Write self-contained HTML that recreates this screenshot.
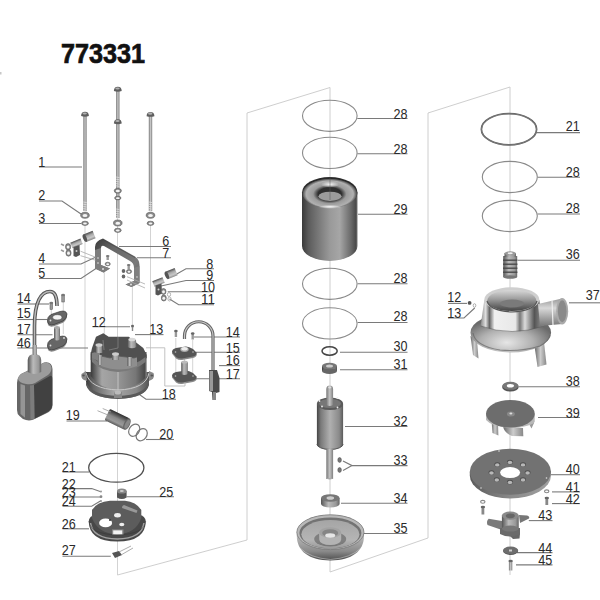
<!DOCTYPE html>
<html><head><meta charset="utf-8"><style>
html,body{margin:0;padding:0;background:#fff;width:600px;height:600px;overflow:hidden}
svg{display:block}
text{font-family:"Liberation Sans",sans-serif;font-size:14.3px;fill:#2a2a2a}
.title{font-family:"Liberation Sans",sans-serif;font-weight:bold;font-size:27px;fill:#111;stroke:#111;stroke-width:0.7px}
</style></head><body>
<svg width="600" height="600" viewBox="0 0 600 600">
<defs>
<linearGradient id="cyl" x1="0" x2="1" y1="0" y2="0">
 <stop offset="0" stop-color="#3a3a3a"/><stop offset="0.12" stop-color="#666"/>
 <stop offset="0.45" stop-color="#a8a8a8"/><stop offset="0.8" stop-color="#888"/><stop offset="1" stop-color="#555"/>
</linearGradient>
<linearGradient id="cylL" x1="0" x2="1" y1="0" y2="0">
 <stop offset="0" stop-color="#555"/><stop offset="0.4" stop-color="#bbb"/><stop offset="0.8" stop-color="#999"/><stop offset="1" stop-color="#666"/>
</linearGradient>
<linearGradient id="cylV" x1="0" x2="0" y1="0" y2="1">
 <stop offset="0" stop-color="#4a4a4a"/><stop offset="0.35" stop-color="#a8a8a8"/><stop offset="0.7" stop-color="#c8c8c8"/><stop offset="1" stop-color="#8a8a8a"/>
</linearGradient>
<linearGradient id="cylH" x1="0" x2="1" y1="0" y2="0">
 <stop offset="0" stop-color="#3a3a3a"/><stop offset="0.2" stop-color="#a5a5a5"/><stop offset="0.45" stop-color="#999"/><stop offset="0.8" stop-color="#777"/><stop offset="0.96" stop-color="#4a4a4a"/><stop offset="1" stop-color="#888"/>
</linearGradient>
<linearGradient id="cylR" x1="0" x2="1" y1="0" y2="0">
 <stop offset="0" stop-color="#444"/><stop offset="0.15" stop-color="#7a7a7a"/><stop offset="0.5" stop-color="#b0b0b0"/><stop offset="0.85" stop-color="#8a8a8a"/><stop offset="1" stop-color="#5a5a5a"/>
</linearGradient>
<linearGradient id="shaft" x1="0" x2="1">
 <stop offset="0" stop-color="#777"/><stop offset="0.5" stop-color="#c4c4c4"/><stop offset="1" stop-color="#808080"/>
</linearGradient>
<radialGradient id="torus" cx="0.5" cy="0.3" r="0.7">
 <stop offset="0" stop-color="#ddd"/><stop offset="0.6" stop-color="#999"/><stop offset="1" stop-color="#555"/>
</radialGradient>
</defs>
<text class="title" x="61" y="62.5" textLength="84" lengthAdjust="spacingAndGlyphs">773331</text>
<polyline points="117.5,575.0 247.0,540.0 247.0,113.0 330.0,87.5 330.0,572.0 428.0,538.0 428.0,113.0 510.0,87.0 510.0,575.0" fill="none" stroke="#c8c8c8" stroke-width="0.9"/>
<line x1="85" y1="225" x2="85" y2="373" stroke="#c8c8c8" stroke-width="0.8"/>
<line x1="117.5" y1="89" x2="117.5" y2="575" stroke="#c8c8c8" stroke-width="0.8"/>
<line x1="150.5" y1="225" x2="150.5" y2="370" stroke="#c8c8c8" stroke-width="0.8"/>
<line x1="132.4" y1="287" x2="132.4" y2="324" stroke="#c8c8c8" stroke-width="0.8"/>
<line x1="104.3" y1="270" x2="104.3" y2="336" stroke="#c8c8c8" stroke-width="0.8"/>
<line x1="175.8" y1="338" x2="175.8" y2="378" stroke="#c8c8c8" stroke-width="0.8"/>
<line x1="192.7" y1="340" x2="192.7" y2="378" stroke="#c8c8c8" stroke-width="0.8"/>
<line x1="51.3" y1="304" x2="51.3" y2="318" stroke="#c8c8c8" stroke-width="0.8"/>
<line x1="63.3" y1="300" x2="63.3" y2="334" stroke="#c8c8c8" stroke-width="0.8"/>
<line x1="57" y1="325" x2="57" y2="335" stroke="#c8c8c8" stroke-width="0.8"/>
<line x1="184.5" y1="358" x2="184.5" y2="362" stroke="#c8c8c8" stroke-width="0.8"/>
<polyline points="39.0,167.0 82.0,167.0" fill="none" stroke="#7a7a7a" stroke-width="1.1"/>
<polyline points="39.0,201.0 62.0,201.0 81.0,214.0" fill="none" stroke="#7a7a7a" stroke-width="1.1"/>
<polyline points="39.0,223.5 81.0,223.5" fill="none" stroke="#7a7a7a" stroke-width="1.1"/>
<polyline points="39.0,264.0 81.0,264.0 96.0,257.0" fill="none" stroke="#7a7a7a" stroke-width="1.1"/>
<polyline points="39.0,278.5 81.0,278.5 97.5,267.5" fill="none" stroke="#7a7a7a" stroke-width="1.1"/>
<polyline points="119.0,246.5 171.0,246.5" fill="none" stroke="#7a7a7a" stroke-width="1.1"/>
<polyline points="137.0,257.8 171.0,257.8" fill="none" stroke="#7a7a7a" stroke-width="1.1"/>
<polyline points="175.0,275.0 186.0,268.8 214.0,268.8" fill="none" stroke="#7a7a7a" stroke-width="1.1"/>
<polyline points="161.0,286.0 186.0,280.5 214.0,280.5" fill="none" stroke="#7a7a7a" stroke-width="1.1"/>
<polyline points="167.7,291.8 214.0,291.8" fill="none" stroke="#7a7a7a" stroke-width="1.1"/>
<polyline points="169.5,299.0 178.7,304.8 214.0,304.8" fill="none" stroke="#7a7a7a" stroke-width="1.1"/>
<polyline points="17.5,304.0 49.0,304.0" fill="none" stroke="#7a7a7a" stroke-width="1.1"/>
<polyline points="17.5,319.5 47.5,319.5" fill="none" stroke="#7a7a7a" stroke-width="1.1"/>
<polyline points="17.5,334.8 52.5,334.8" fill="none" stroke="#7a7a7a" stroke-width="1.1"/>
<polyline points="17.5,348.0 88.0,348.0" fill="none" stroke="#7a7a7a" stroke-width="1.1"/>
<polyline points="92.5,326.8 130.0,326.8" fill="none" stroke="#7a7a7a" stroke-width="1.1"/>
<polyline points="135.0,334.6 163.5,334.6" fill="none" stroke="#7a7a7a" stroke-width="1.1"/>
<polyline points="194.0,337.0 240.0,337.0" fill="none" stroke="#7a7a7a" stroke-width="1.1"/>
<polyline points="196.0,352.3 240.0,352.3" fill="none" stroke="#7a7a7a" stroke-width="1.1"/>
<polyline points="219.0,365.6 240.0,365.6" fill="none" stroke="#7a7a7a" stroke-width="1.1"/>
<polyline points="196.0,378.8 240.0,378.8" fill="none" stroke="#7a7a7a" stroke-width="1.1"/>
<polyline points="138.0,393.5 146.0,399.2 176.0,399.2" fill="none" stroke="#7a7a7a" stroke-width="1.1"/>
<polyline points="66.5,421.0 107.0,421.0" fill="none" stroke="#7a7a7a" stroke-width="1.1"/>
<polyline points="146.0,439.5 174.0,439.5" fill="none" stroke="#7a7a7a" stroke-width="1.1"/>
<polyline points="62.5,472.0 89.0,472.0" fill="none" stroke="#7a7a7a" stroke-width="1.1"/>
<polyline points="62.5,488.6 91.7,488.6 100.8,491.7" fill="none" stroke="#7a7a7a" stroke-width="1.1"/>
<polyline points="62.5,497.0 101.0,497.0" fill="none" stroke="#7a7a7a" stroke-width="1.1"/>
<polyline points="62.5,506.2 91.7,506.2 100.8,500.8" fill="none" stroke="#7a7a7a" stroke-width="1.1"/>
<polyline points="126.7,496.8 174.0,496.8" fill="none" stroke="#7a7a7a" stroke-width="1.1"/>
<polyline points="62.5,528.8 89.0,528.8" fill="none" stroke="#7a7a7a" stroke-width="1.1"/>
<polyline points="62.5,556.2 110.8,556.2" fill="none" stroke="#7a7a7a" stroke-width="1.1"/>
<polyline points="357.3,118.5 407.5,118.5" fill="none" stroke="#7a7a7a" stroke-width="1.1"/>
<polyline points="357.3,153.7 407.5,153.7" fill="none" stroke="#7a7a7a" stroke-width="1.1"/>
<polyline points="358.0,214.2 407.5,214.2" fill="none" stroke="#7a7a7a" stroke-width="1.1"/>
<polyline points="357.6,283.8 407.5,283.8" fill="none" stroke="#7a7a7a" stroke-width="1.1"/>
<polyline points="357.6,322.5 407.5,322.5" fill="none" stroke="#7a7a7a" stroke-width="1.1"/>
<polyline points="340.0,352.2 407.5,352.2" fill="none" stroke="#7a7a7a" stroke-width="1.1"/>
<polyline points="340.0,369.8 407.5,369.8" fill="none" stroke="#7a7a7a" stroke-width="1.1"/>
<polyline points="345.0,426.5 407.5,426.5" fill="none" stroke="#7a7a7a" stroke-width="1.1"/>
<polyline points="343.0,461.0 352.0,465.6 407.5,465.6" fill="none" stroke="#7a7a7a" stroke-width="1.1"/>
<polyline points="343.0,470.5 352.0,465.6" fill="none" stroke="#7a7a7a" stroke-width="1.1"/>
<polyline points="341.0,503.2 407.5,503.2" fill="none" stroke="#7a7a7a" stroke-width="1.1"/>
<polyline points="364.0,533.5 407.5,533.5" fill="none" stroke="#7a7a7a" stroke-width="1.1"/>
<polyline points="537.0,132.6 580.0,132.6" fill="none" stroke="#7a7a7a" stroke-width="1.1"/>
<polyline points="537.6,177.2 580.0,177.2" fill="none" stroke="#7a7a7a" stroke-width="1.1"/>
<polyline points="537.6,214.0 580.0,214.0" fill="none" stroke="#7a7a7a" stroke-width="1.1"/>
<polyline points="518.0,260.2 580.0,260.2" fill="none" stroke="#7a7a7a" stroke-width="1.1"/>
<polyline points="569.0,302.8 600.0,302.8" fill="none" stroke="#7a7a7a" stroke-width="1.1"/>
<polyline points="448.0,303.4 467.0,303.4" fill="none" stroke="#7a7a7a" stroke-width="1.1"/>
<polyline points="448.0,318.0 464.0,318.0 474.7,308.0" fill="none" stroke="#7a7a7a" stroke-width="1.1"/>
<polyline points="518.7,386.7 580.0,386.7" fill="none" stroke="#7a7a7a" stroke-width="1.1"/>
<polyline points="538.0,417.5 580.0,417.5" fill="none" stroke="#7a7a7a" stroke-width="1.1"/>
<polyline points="551.0,474.7 580.0,474.7" fill="none" stroke="#7a7a7a" stroke-width="1.1"/>
<polyline points="552.0,491.9 580.0,491.9" fill="none" stroke="#7a7a7a" stroke-width="1.1"/>
<polyline points="552.0,503.6 580.0,503.6" fill="none" stroke="#7a7a7a" stroke-width="1.1"/>
<polyline points="528.8,520.6 552.5,520.6" fill="none" stroke="#7a7a7a" stroke-width="1.1"/>
<polyline points="517.0,552.6 552.5,552.6" fill="none" stroke="#7a7a7a" stroke-width="1.1"/>
<polyline points="516.0,564.9 552.5,564.9" fill="none" stroke="#7a7a7a" stroke-width="1.1"/>
<rect x="83.3" y="114.5" width="3.4" height="96.5" fill="url(#shaft)"/><path d="M81.1,116.0 Q81.1,111.7 85.0,111.7 Q88.9,111.7 88.9,116.0 Q85.0,117.3 81.1,116.0 Z" fill="#5e5e5e"/><ellipse cx="84.7" cy="113.5" rx="2.2" ry="1.1" fill="#b0b0b0"/>
<rect x="148.8" y="114.7" width="3.4" height="96.3" fill="url(#shaft)"/><path d="M146.6,116.2 Q146.6,111.9 150.5,111.9 Q154.4,111.9 154.4,116.2 Q150.5,117.5 146.6,116.2 Z" fill="#5e5e5e"/><ellipse cx="150.2" cy="113.7" rx="2.2" ry="1.1" fill="#b0b0b0"/>
<rect x="116.1" y="89.5" width="3.4" height="32.5" fill="url(#shaft)"/><path d="M113.9,91.0 Q113.9,86.7 117.8,86.7 Q121.7,86.7 121.7,91.0 Q117.8,92.3 113.9,91.0 Z" fill="#5e5e5e"/><ellipse cx="117.5" cy="88.5" rx="2.2" ry="1.1" fill="#b0b0b0"/>
<rect x="116.1" y="122.0" width="3.4" height="96.0" fill="url(#shaft)"/><path d="M113.9,123.5 Q113.9,119.2 117.8,119.2 Q121.7,119.2 121.7,123.5 Q117.8,124.8 113.9,123.5 Z" fill="#5e5e5e"/><ellipse cx="117.5" cy="121.0" rx="2.2" ry="1.1" fill="#b0b0b0"/>
<line x1="83.3" y1="202.0" x2="86.7" y2="202.6" stroke="#e6e6e6" stroke-width="0.7"/><line x1="83.3" y1="204.2" x2="86.7" y2="204.8" stroke="#e6e6e6" stroke-width="0.7"/><line x1="83.3" y1="206.4" x2="86.7" y2="207.0" stroke="#e6e6e6" stroke-width="0.7"/><line x1="83.3" y1="208.6" x2="86.7" y2="209.2" stroke="#e6e6e6" stroke-width="0.7"/><line x1="83.3" y1="210.8" x2="86.7" y2="211.4" stroke="#e6e6e6" stroke-width="0.7"/>
<line x1="148.8" y1="202.0" x2="152.2" y2="202.6" stroke="#e6e6e6" stroke-width="0.7"/><line x1="148.8" y1="204.2" x2="152.2" y2="204.8" stroke="#e6e6e6" stroke-width="0.7"/><line x1="148.8" y1="206.4" x2="152.2" y2="207.0" stroke="#e6e6e6" stroke-width="0.7"/><line x1="148.8" y1="208.6" x2="152.2" y2="209.2" stroke="#e6e6e6" stroke-width="0.7"/><line x1="148.8" y1="210.8" x2="152.2" y2="211.4" stroke="#e6e6e6" stroke-width="0.7"/>
<line x1="116.1" y1="177.0" x2="119.5" y2="177.6" stroke="#e6e6e6" stroke-width="0.7"/><line x1="116.1" y1="179.2" x2="119.5" y2="179.8" stroke="#e6e6e6" stroke-width="0.7"/><line x1="116.1" y1="181.4" x2="119.5" y2="182.0" stroke="#e6e6e6" stroke-width="0.7"/><line x1="116.1" y1="183.6" x2="119.5" y2="184.2" stroke="#e6e6e6" stroke-width="0.7"/><line x1="116.1" y1="185.8" x2="119.5" y2="186.4" stroke="#e6e6e6" stroke-width="0.7"/>
<line x1="116.1" y1="209.0" x2="119.5" y2="209.6" stroke="#e6e6e6" stroke-width="0.7"/><line x1="116.1" y1="211.2" x2="119.5" y2="211.8" stroke="#e6e6e6" stroke-width="0.7"/><line x1="116.1" y1="213.4" x2="119.5" y2="214.0" stroke="#e6e6e6" stroke-width="0.7"/><line x1="116.1" y1="215.6" x2="119.5" y2="216.2" stroke="#e6e6e6" stroke-width="0.7"/><line x1="116.1" y1="217.8" x2="119.5" y2="218.4" stroke="#e6e6e6" stroke-width="0.7"/>
<ellipse cx="85.0" cy="215.3" rx="4.3" ry="3.0" fill="#8a8a8a" stroke="#555" stroke-width="0.6"/><ellipse cx="85.0" cy="215.5" rx="2.4" ry="1.5" fill="#f4f4f4"/>
<ellipse cx="85.0" cy="223.3" rx="3.4" ry="2.1" fill="#8a8a8a" stroke="#555" stroke-width="0.6"/><ellipse cx="85.0" cy="223.5" rx="1.9" ry="1.1" fill="#f4f4f4"/>
<ellipse cx="150.5" cy="215.3" rx="4.3" ry="3.0" fill="#8a8a8a" stroke="#555" stroke-width="0.6"/><ellipse cx="150.5" cy="215.5" rx="2.4" ry="1.5" fill="#f4f4f4"/>
<ellipse cx="150.5" cy="223.3" rx="3.4" ry="2.1" fill="#8a8a8a" stroke="#555" stroke-width="0.6"/><ellipse cx="150.5" cy="223.5" rx="1.9" ry="1.1" fill="#f4f4f4"/>
<ellipse cx="117.8" cy="190.8" rx="3.6" ry="2.4" fill="#8a8a8a" stroke="#555" stroke-width="0.6"/><ellipse cx="117.8" cy="191.0" rx="2.0" ry="1.2" fill="#f4f4f4"/>
<ellipse cx="117.8" cy="198.0" rx="3.2" ry="1.8" fill="#8a8a8a" stroke="#555" stroke-width="0.6"/><ellipse cx="117.8" cy="198.2" rx="1.8" ry="0.9" fill="#f4f4f4"/>
<ellipse cx="117.8" cy="223.0" rx="4.3" ry="3.0" fill="#8a8a8a" stroke="#555" stroke-width="0.6"/><ellipse cx="117.8" cy="223.2" rx="2.4" ry="1.5" fill="#f4f4f4"/>
<ellipse cx="117.8" cy="230.3" rx="3.4" ry="2.1" fill="#8a8a8a" stroke="#555" stroke-width="0.6"/><ellipse cx="117.8" cy="230.5" rx="1.9" ry="1.1" fill="#f4f4f4"/>
<linearGradient id="brk" x1="0" y1="0" x2="1" y2="1"><stop offset="0" stop-color="#3a3a3a"/><stop offset="0.3" stop-color="#666"/><stop offset="0.7" stop-color="#7a7a7a"/><stop offset="1" stop-color="#5a5a5a"/></linearGradient>
<path d="M95,268.5 L95,247 Q95,241 103,238.5 L135,256.5 Q139.5,259.5 139.5,265 L139.5,283 L131.5,287 L125.5,284.5 L134,281 L134,268 Q134,263 130,261 L104,246 Q101,245 101,248 L101,265 L110,268.5 L103.5,272.5 Z" fill="url(#brk)"/>
<path d="M101,248 L101,265 L110,268.5 L103.5,272.5 L95,268.5 L95,250Z" fill="#7d7d7d"/>
<path d="M134,268 L134,281 L125.5,284.5 L131.5,287 L139.5,283 L139.5,266Z" fill="#808080"/>
<path d="M96,244 Q98,240.5 103,239.8 L135,257.5" stroke="#444" stroke-width="0.6" fill="none"/>
<circle cx="98" cy="258" r="1" fill="#bbb"/><circle cx="98" cy="263" r="1" fill="#bbb"/><circle cx="103" cy="269" r="1" fill="#ddd"/><circle cx="137" cy="277" r="0.9" fill="#bbb"/><circle cx="131" cy="284.5" r="1" fill="#ddd"/>
<g transform="rotate(-22 89.5 236.3)"><rect x="84.5" y="232.3" width="10" height="8" fill="url(#cylV)"/><ellipse cx="84.5" cy="236.3" rx="1.8" ry="4" fill="#555"/></g>
<g transform="rotate(-22 76.4 243.4)"><rect x="71" y="240.4" width="11" height="6" fill="url(#cylV)"/></g>
<path d="M73.5,247 L79.5,245 L80,255 L76,257 L73.5,256Z" fill="#555"/><circle cx="76.5" cy="251" r="1" fill="#ccc"/>
<ellipse cx="68.1" cy="246.8" rx="2.6" ry="3.2" fill="#8a8a8a" stroke="#555" stroke-width="0.6"/><ellipse cx="68.1" cy="247.0" rx="1.4" ry="1.6" fill="#f4f4f4"/>
<ellipse cx="68.5" cy="253.0" rx="2.6" ry="3.2" fill="#8a8a8a" stroke="#555" stroke-width="0.6"/><ellipse cx="68.5" cy="253.2" rx="1.4" ry="1.6" fill="#f4f4f4"/>
<path d="M61,244 L64,245.5 M61,250 L64,251.5" stroke="#999" stroke-width="1.6"/>
<polyline points="80.5,251.2 95.5,257.2" fill="none" stroke="#aaa" stroke-width="0.8"/>
<polyline points="80.5,255.7 95.5,260.2" fill="none" stroke="#aaa" stroke-width="0.8"/>
<g transform="rotate(-22 171.5 273.5)"><rect x="166.5" y="269.5" width="10" height="8" fill="url(#cylV)"/><ellipse cx="166.5" cy="273.5" rx="1.8" ry="4" fill="#555"/></g>
<g transform="rotate(-22 158.5 282)"><rect x="153" y="279" width="11" height="6" fill="url(#cylV)"/></g>
<path d="M155.5,285.5 L161.5,283.5 L162,293.5 L158,295.5 L155.5,294.5Z" fill="#555"/><circle cx="158.5" cy="289.5" r="1" fill="#ccc"/>
<ellipse cx="163.5" cy="291.5" rx="2.5" ry="3.0" fill="#8a8a8a" stroke="#555" stroke-width="0.6"/><ellipse cx="163.5" cy="291.7" rx="1.4" ry="1.5" fill="#f4f4f4"/>
<ellipse cx="163.8" cy="298.0" rx="2.5" ry="3.0" fill="#8a8a8a" stroke="#555" stroke-width="0.6"/><ellipse cx="163.8" cy="298.2" rx="1.4" ry="1.5" fill="#f4f4f4"/>
<ellipse cx="169" cy="294.5" rx="1.6" ry="2" fill="none" stroke="#aaa" stroke-width="0.9"/><ellipse cx="169.5" cy="299" rx="1.6" ry="2" fill="none" stroke="#aaa" stroke-width="0.9"/>
<polyline points="127.0,276.7 145.0,284.0" fill="none" stroke="#aaa" stroke-width="0.8"/>
<polyline points="127.0,280.0 145.0,288.0" fill="none" stroke="#aaa" stroke-width="0.8"/>
<rect x="106.5" y="256" width="2.4" height="4" fill="#999"/><ellipse cx="107.7" cy="256" rx="1.8" ry="1.1" fill="#777"/><ellipse cx="107.7" cy="264.0" rx="2.6" ry="1.8" fill="#8a8a8a" stroke="#555" stroke-width="0.6"/><ellipse cx="107.7" cy="264.2" rx="1.4" ry="0.9" fill="#f4f4f4"/>
<rect x="127.5" y="265" width="2.4" height="4" fill="#999"/><ellipse cx="128.7" cy="265" rx="1.8" ry="1.1" fill="#777"/><ellipse cx="129.0" cy="271.5" rx="2.6" ry="2.0" fill="#8a8a8a" stroke="#555" stroke-width="0.6"/><ellipse cx="129.0" cy="271.7" rx="1.4" ry="1.0" fill="#f4f4f4"/><ellipse cx="123.5" cy="271" rx="1.8" ry="2" fill="#666"/><ellipse cx="123.5" cy="276.5" rx="1.8" ry="2" fill="#666"/>
<path d="M34.5,356 L34.5,326 C34.5,302 41,291.5 50,291.5 C55,291.5 57,296 57,306" fill="none" stroke="#555" stroke-width="3.6"/>
<path d="M34.5,356 L34.5,326 C34.5,302 41,291.5 50,291.5 C55,291.5 57,296 57,306" fill="none" stroke="#b8b8b8" stroke-width="1.5"/>
<path d="M17,383 Q17,375 24,372.5 L44,362.5 Q52,361 52.5,369 L52.5,405 Q52.5,411 46,413.5 L33,419.8 Q28,421.5 23,419 L19.5,416 Q17,414 17,410 Z" fill="#666"/>
<path d="M18,379 Q19,374 24.5,372.5 L44,362.8 Q51,362 51.5,368 Q51.5,372 48,375 L35,383 Q31,385 26,384 Q19,383 18,379 Z" fill="#9c9c9c"/>
<path d="M34,385 L50,376 Q52.3,375 52.3,379 L52.3,405 Q52,410 46.5,412.5 L34.5,418.7 Z" fill="#414141"/>
<path d="M20.5,384 L20.5,414 L25,417.8 L25,385.5 Z" fill="#959595"/><path d="M30,385.5 L34,385 L34.5,418.7 L30.5,419.5 Z" fill="#7c7c7c"/>
<path d="M27.7,372 L27.7,360 Q28,354 34.5,354 Q41,354 41.2,360 L41.2,372 Q34.5,376 27.7,372 Z" fill="url(#cylL)"/>
<rect x="32.8" y="345" width="4.2" height="10" fill="url(#shaft)"/>
<rect x="50" y="303" width="2.6" height="6.5" fill="#999" stroke="#555" stroke-width="0.5"/><ellipse cx="51.3" cy="303" rx="1.9" ry="1.3" fill="#777"/><rect x="61.8" y="295" width="2.6" height="7" fill="#999" stroke="#555" stroke-width="0.5"/><ellipse cx="63.1" cy="295" rx="1.9" ry="1.3" fill="#777"/>
<path d="M47.5,322.8 Q47,318.8 51,316.3 L60,313.3 Q66,311.8 67,315.8 Q67,319.8 63,322.8 L54,326.3 Q48,327.8 47.5,322.8 Z" fill="#888"/><path d="M47.5,321.0 Q47,317.0 51,314.5 L60,311.5 Q66,310.0 67,314.0 Q67,318.0 63,321.0 L54,324.5 Q48,326.0 47.5,321.0 Z" fill="#666" stroke="#3a3a3a" stroke-width="0.7"/>
<ellipse cx="57.3" cy="317.3" rx="4.6" ry="2.6" fill="#f2f2f2" stroke="#444" stroke-width="0.5"/><circle cx="50.5" cy="320.5" r="0.9" fill="#ddd"/>
<path d="M47.5,347.8 Q47,343.8 51,341.3 L60,338.3 Q66,336.8 67,340.8 Q67,344.8 63,347.8 L54,351.3 Q48,352.8 47.5,347.8 Z" fill="#888"/><path d="M47.5,346.0 Q47,342.0 51,339.5 L60,336.5 Q66,335.0 67,339.0 Q67,343.0 63,346.0 L54,349.5 Q48,351.0 47.5,346.0 Z" fill="#666" stroke="#3a3a3a" stroke-width="0.7"/>
<path d="M54,328 L54,339.5 Q57,341.5 60,339.5 L60,328 Z" fill="url(#cylL)"/><ellipse cx="57" cy="327.5" rx="3" ry="1.5" fill="#aaa"/><circle cx="50.5" cy="345.5" r="0.9" fill="#ddd"/><circle cx="64" cy="338" r="0.9" fill="#ddd"/>
<path d="M86,372 L86,382 Q88,398 118,399 Q148,398 149,382 L149,372 Z" fill="url(#cyl)"/>
<path d="M86,381 Q90,395 118,396 Q146,395 149,381 L149,385 Q146,398 118,399 Q90,398 86,385Z" fill="#5a5a5a"/>
<path d="M90.7,352 L90.7,376 Q100,389 118,389.5 Q137,389 146.7,376 L146.7,352 Z" fill="url(#cylH)"/>
<path d="M86,373 Q90,389 118,390 Q146,389 149,373" stroke="#c8c8c8" stroke-width="1" fill="none"/>
<line x1="118" y1="365" x2="118" y2="390" stroke="#cfcfcf" stroke-width="0.8"/>
<path d="M86,371 L81.5,374 Q80.5,378 84,380 L87,381Z" fill="#8a8a8a"/><ellipse cx="83.5" cy="375.5" rx="1.3" ry="1" fill="#555"/><path d="M149,371 L153.5,373 Q155,377 152,379.5 L149,381Z" fill="#8a8a8a"/><ellipse cx="151.8" cy="375.5" rx="1.3" ry="1" fill="#555"/>
<path d="M114,392 L114,398 L122,398 L122,392Z" fill="#888"/><ellipse cx="117.8" cy="392.5" rx="3.2" ry="2" fill="#bbb"/>
<path d="M90.7,354 L92,348 L96,336.7 L103.3,333.3 L108.7,336.7 L128.7,336.7 L143.3,348 L146.7,355 L146.7,358 Q135,369 118,368.5 Q101,368 90.7,360 Z" fill="#505050"/>
<path d="M92,357 Q101,366 118,367 Q135,366 145.5,357 L145.5,362 Q135,371 118,372 Q101,371 92,362Z" fill="#7a7a7a"/>
<path d="M101,356 L110,358 L118,356 L134,358 L137,357 L137,366 Q120,373 101,366 Z" fill="#8e8e8e"/><path d="M101,356 L110,358 L118,356 L134,358 L137,357" stroke="#5a5a5a" stroke-width="0.8" fill="none"/>
<path d="M92,353 L100,351 L100,362 L92,358Z" fill="#808080"/>
<path d="M128,340 Q132,336.5 136,340 L136.5,347 Q132,349.5 127.5,347Z" fill="url(#cylL)"/><ellipse cx="132" cy="339.5" rx="3.6" ry="1.8" fill="#d8d8d8"/>
<rect x="95.5" y="345" width="7" height="8" fill="url(#cylL)"/><ellipse cx="99" cy="345" rx="3.5" ry="1.8" fill="#ccc"/>
<rect x="112" y="354" width="7" height="6" fill="url(#cylL)"/><ellipse cx="115.5" cy="354" rx="3.5" ry="1.8" fill="#ccc"/>
<rect x="127.5" y="357" width="4.5" height="9" fill="url(#cylL)"/><rect x="98" y="355" width="4" height="10" fill="url(#cylL)"/>
<path d="M103,340 L104,350 M109,350 L118,348 L118,337" stroke="#888" stroke-width="0.7" fill="none"/>
<circle cx="132.5" cy="326" r="1.5" fill="#666"/><rect x="131.8" y="327" width="1.4" height="4" fill="#888"/>
<path d="M184.5,339 L184.5,336 A14.25,14.25 0 0 1 213,336 L213,372" fill="none" stroke="#666" stroke-width="3.2"/><path d="M184.5,339 L184.5,336 A14.25,14.25 0 0 1 213,336 L213,372" fill="none" stroke="#c8c8c8" stroke-width="1.1"/>
<path d="M209,370 L217,370 L219.5,378 L219.5,392 L216,393 L216,400 L212.5,400 L212,392 L209,391 Z" fill="#4a4a4a"/><rect x="209.5" y="371" width="3.5" height="20" fill="#999"/><rect x="213" y="392" width="3" height="8" fill="#888"/>
<rect x="174.7" y="331" width="2.4" height="6" fill="#999"/><ellipse cx="175.9" cy="331" rx="1.8" ry="1.2" fill="#666"/><rect x="191.5" y="333.5" width="2.4" height="6" fill="#999"/><ellipse cx="192.7" cy="333.5" rx="1.8" ry="1.2" fill="#666"/>
<path d="M172,353.5 Q172,350.5 176,349.5 L186,348.0 Q189,348.0 193,350.5 L196.5,354.0 Q197.5,356.5 193,358.0 L182,360.0 Q179,360.5 176,358.5 Z" fill="#8a8a8a"/>
<path d="M172,352 Q172,349 176,348 L186,346.5 Q189,346.5 193,349 L196.5,352.5 Q197.5,355 193,356.5 L182,358.5 Q179,359 176,357 Z" fill="#555"/>
<ellipse cx="184.5" cy="349.5" rx="4.2" ry="2.4" fill="#aaa"/><ellipse cx="184.5" cy="348.8" rx="3.2" ry="1.8" fill="#eee"/>
<path d="M172,377.5 Q172,374.5 176,373.5 L186,372.0 Q189,372.0 193,374.5 L196.5,378.0 Q197.5,380.5 193,382.0 L182,384.0 Q179,384.5 176,382.5 Z" fill="#8a8a8a"/>
<path d="M172,376 Q172,373 176,372 L186,370.5 Q189,370.5 193,373 L196.5,376.5 Q197.5,379 193,380.5 L182,382.5 Q179,383 176,381 Z" fill="#555"/>
<path d="M181.2,362 L181.2,374 Q184.5,376 187.8,374 L187.8,362 Z" fill="url(#cylL)"/><ellipse cx="184.5" cy="362" rx="3.3" ry="1.6" fill="#bbb"/>
<circle cx="175.5" cy="352" r="0.8" fill="#bbb"/><circle cx="193" cy="352" r="0.8" fill="#bbb"/><circle cx="175.5" cy="376" r="0.8" fill="#bbb"/><circle cx="193" cy="376" r="0.8" fill="#bbb"/>
<polyline points="146.0,347.8 164.8,347.8 164.8,386.0 185.0,386.0 185.0,382.5" fill="none" stroke="#bbb" stroke-width="0.9"/>
<linearGradient id="capg" x1="0" x2="0" y1="0" y2="1"><stop offset="0" stop-color="#2e2e2e"/><stop offset="0.45" stop-color="#8a8a8a"/><stop offset="0.75" stop-color="#9a9a9a"/><stop offset="1" stop-color="#5a5a5a"/></linearGradient>
<g transform="rotate(26 117.5 419.5)"><rect x="106" y="413.3" width="22" height="12.4" rx="1.5" fill="url(#capg)"/><ellipse cx="128" cy="419.5" rx="3" ry="6.2" fill="#666"/><ellipse cx="128.3" cy="419.5" rx="2" ry="4.8" fill="#888"/></g>
<path d="M97.5,410.7 L108,415 M102.7,408.5 L111,412" stroke="#999" stroke-width="0.8"/>
<ellipse cx="134.2" cy="430.2" rx="5" ry="6.6" fill="none" stroke="#777" stroke-width="1.2" transform="rotate(35 134.2 430.2)"/><ellipse cx="141.7" cy="434.7" rx="5" ry="6.6" fill="none" stroke="#777" stroke-width="1.2" transform="rotate(35 141.7 434.7)"/>
<ellipse cx="116.3" cy="467.8" rx="27.6" ry="14.4" fill="none" stroke="#505050" stroke-width="1.3"/>
<circle cx="101" cy="491.5" r="1" fill="#999"/><circle cx="101" cy="496.7" r="1.4" fill="#888"/><circle cx="101" cy="501" r="1" fill="#999"/>
<path d="M88.8,521 Q88.8,541.5 117.3,541.5 Q145.7,541.5 145.7,521 Q145.7,512 117.3,512 Q88.8,512 88.8,521Z" fill="#484848"/>
<path d="M90.5,523 Q92.5,538.5 117.3,539 Q142,538.5 144,523" stroke="#a0a0a0" stroke-width="1.6" fill="none"/>
<path d="M92,518 L92,510 Q97,501.5 110,500.7 L125,500.7 Q136,501.5 141.3,510 L141.3,518 Q136,533.5 117,534.5 Q98,533.5 92,518Z" fill="#5c5c5c"/>
<ellipse cx="105.6" cy="522.9" rx="6.5" ry="4.3" fill="#fff"/><ellipse cx="117.5" cy="515.3" rx="3.4" ry="2.2" fill="#eee"/><ellipse cx="121.8" cy="524.5" rx="2.6" ry="1.8" fill="#eee"/>
<rect x="112" y="529.4" width="11.5" height="5.6" fill="#888"/><rect x="113.2" y="530.4" width="9" height="4" fill="#f2f2f2"/>
<path d="M122.4,506 L124,505 L137.5,510.5 L136.5,513 L122,508Z" fill="#999"/><circle cx="110" cy="520" r="1" fill="#333"/>
<path d="M88.8,521 Q90,534 117,535 Q145,534 145.7,521" stroke="#333" stroke-width="0.8" fill="none" opacity="0.6"/>
<path d="M117,491 L117,497.5 Q121.8,500.5 126.6,497.5 L126.6,491 Z" fill="#555"/><ellipse cx="121.8" cy="491" rx="4.8" ry="2.6" fill="#888"/><ellipse cx="121.8" cy="491" rx="2" ry="1.1" fill="#ccc"/>
<path d="M112,553 L119,551 L122,555 L115,558 Z" fill="#555"/><path d="M119,552 L131,546 M121,555 L133,548" stroke="#999" stroke-width="0.8"/>
<ellipse cx="329.8" cy="115.8" rx="27.3" ry="15.6" fill="none" stroke="#8a8a8a" stroke-width="1.1"/>
<ellipse cx="329.8" cy="152.9" rx="27.3" ry="15.6" fill="none" stroke="#8a8a8a" stroke-width="1.1"/>
<ellipse cx="329.8" cy="283.8" rx="27.3" ry="15.6" fill="none" stroke="#8a8a8a" stroke-width="1.1"/>
<ellipse cx="329.8" cy="323.4" rx="27.3" ry="15.6" fill="none" stroke="#8a8a8a" stroke-width="1.1"/>
<linearGradient id="c29" x1="0" x2="1"><stop offset="0" stop-color="#3a3a3a"/><stop offset="0.12" stop-color="#5c5c5c"/><stop offset="0.5" stop-color="#999"/><stop offset="0.68" stop-color="#a6a6a6"/><stop offset="0.88" stop-color="#6a6a6a"/><stop offset="0.97" stop-color="#4a4a4a"/><stop offset="1" stop-color="#777"/></linearGradient>
<radialGradient id="t29" cx="0.5" cy="0.55" r="0.5"><stop offset="0" stop-color="#333"/><stop offset="0.42" stop-color="#2e2e2e"/><stop offset="0.6" stop-color="#9a9a9a"/><stop offset="0.85" stop-color="#b0b0b0"/><stop offset="0.96" stop-color="#5a5a5a"/><stop offset="1" stop-color="#2a2a2a"/></radialGradient>
<radialGradient id="hl" cx="0.5" cy="0.5" r="0.5"><stop offset="0" stop-color="#fff" stop-opacity="0.9"/><stop offset="1" stop-color="#fff" stop-opacity="0"/></radialGradient>
<path d="M302,192.5 L302,246 A27.75,15 0 0 0 357.5,246 L357.5,192.5 Z" fill="url(#c29)"/>
<ellipse cx="329.75" cy="192.5" rx="27.75" ry="15.5" fill="url(#t29)"/>
<ellipse cx="330" cy="196.3" rx="11.5" ry="4.6" fill="#9c9c9c"/>
<ellipse cx="330" cy="184.5" rx="9" ry="3.2" fill="url(#hl)"/><ellipse cx="330" cy="206.8" rx="12" ry="2" fill="url(#hl)"/>
<line x1="330" y1="177" x2="330" y2="200" stroke="#555" stroke-width="0.5"/>
<ellipse cx="329.6" cy="351" rx="7.6" ry="4.2" fill="none" stroke="#444" stroke-width="1.5"/>
<rect x="322" y="366" width="15" height="5" fill="url(#cyl)"/><ellipse cx="329.5" cy="371" rx="7.5" ry="3" fill="#666"/><ellipse cx="329.5" cy="366" rx="7.5" ry="3.2" fill="#777"/><ellipse cx="329.5" cy="366" rx="3.5" ry="1.6" fill="#ccc"/>
<path d="M316.9,404 L316.9,444 A13.1,5.5 0 0 0 343.1,444 L343.1,404 Z" fill="url(#cylR)"/>
<ellipse cx="330" cy="403.8" rx="13.1" ry="6.3" fill="#5a5a5a"/><ellipse cx="330" cy="403.5" rx="11" ry="4.6" fill="#777"/>
<path d="M326.3,389 Q326.5,385.6 329.7,385.6 Q333,385.6 333.1,389 L333.1,405 Q329.7,407 326.3,405Z" fill="url(#shaft)"/><ellipse cx="329.7" cy="387.5" rx="1.6" ry="1" fill="#ddd"/>
<circle cx="319.5" cy="401" r="0.9" fill="#eee"/><circle cx="322" cy="406.5" r="0.9" fill="#eee"/><circle cx="337.5" cy="407.5" r="0.9" fill="#eee"/><circle cx="337.5" cy="398" r="0.9" fill="#eee"/>
<path d="M316.9,444 A13.1,5.5 0 0 0 343.1,444" stroke="#555" stroke-width="1" fill="none"/>
<rect x="326.3" y="449" width="6.8" height="30" fill="url(#shaft)"/><path d="M326.3,478 Q329.7,481 333.1,478Z" fill="#aaa"/>
<ellipse cx="339.6" cy="460" rx="1.8" ry="2.4" fill="#777" stroke="#555" stroke-width="0.6"/><ellipse cx="339.6" cy="470" rx="1.8" ry="2.4" fill="#777" stroke="#555" stroke-width="0.6"/>
<path d="M321,498 L321,504 A9.3,3.5 0 0 0 339.6,504 L339.6,498Z" fill="url(#cylL)"/><ellipse cx="330.3" cy="498" rx="9.3" ry="3.8" fill="#777"/><ellipse cx="330.3" cy="498" rx="3.8" ry="1.8" fill="#ccc"/>
<linearGradient id="dish" x1="0" x2="0" y1="0" y2="1"><stop offset="0" stop-color="#888"/><stop offset="0.5" stop-color="#b5b5b5"/><stop offset="0.8" stop-color="#8a8a8a"/><stop offset="1" stop-color="#4e4e4e"/></linearGradient>
<path d="M296.8,532.2 A33.6,17.4 0 0 1 364,532.2 L364,536 C364,551 352,560.4 330.4,560.4 C309,560.4 296.8,551 296.8,536 Z" fill="url(#dish)"/>
<ellipse cx="330.4" cy="532.2" rx="33.6" ry="17.4" fill="#b8b8b8" stroke="#6a6a6a" stroke-width="0.6"/>
<ellipse cx="330.4" cy="533" rx="31" ry="15.6" fill="#737373"/>
<linearGradient id="dish2" x1="0" x2="0" y1="0" y2="1"><stop offset="0" stop-color="#a5a5a5"/><stop offset="0.7" stop-color="#b5b5b5"/><stop offset="1" stop-color="#9a9a9a"/></linearGradient>
<ellipse cx="330.4" cy="534.2" rx="29" ry="14.2" fill="url(#dish2)"/>
<ellipse cx="330.2" cy="539" rx="16" ry="7.5" fill="#555" opacity="0.55"/>
<path d="M319.2,532.5 L319.2,539.5 A11,5.5 0 0 0 341.2,539.5 L341.2,532.5 Z" fill="#b3b3b3"/>
<ellipse cx="330.2" cy="532.5" rx="11" ry="5.3" fill="#a2a2a2"/><ellipse cx="330.2" cy="533" rx="8" ry="3.8" fill="#858585"/><ellipse cx="330.2" cy="535.5" rx="5" ry="2.2" fill="#e6e6e6"/>
<path d="M300,548 Q310,558 330.4,559.5 Q351,558 361,548" stroke="#ddd" stroke-width="0.8" fill="none" opacity="0.6"/>
<ellipse cx="509" cy="129.3" rx="27.6" ry="15.6" fill="none" stroke="#5a5a5a" stroke-width="1.7"/><ellipse cx="509" cy="129.3" rx="27.6" ry="15.6" fill="none" stroke="#999" stroke-width="0.5"/>
<ellipse cx="509.8" cy="177.0" rx="27.5" ry="15.6" fill="none" stroke="#8a8a8a" stroke-width="1.1"/>
<ellipse cx="509.8" cy="216.0" rx="27.5" ry="15.6" fill="none" stroke="#8a8a8a" stroke-width="1.1"/>
<rect x="503.2" y="256" width="14" height="21" fill="url(#cylL)"/><rect x="504.5" y="253" width="11.5" height="4" fill="url(#cylL)"/><ellipse cx="510.2" cy="253.3" rx="5.8" ry="2" fill="#999"/><ellipse cx="510.2" cy="253.3" rx="2.6" ry="1" fill="#eee"/>
<rect x="503" y="259.5" width="14.4" height="1.4" fill="#4a4a4a"/>
<rect x="503" y="263.5" width="14.4" height="1.4" fill="#4a4a4a"/>
<rect x="503" y="267.5" width="14.4" height="1.4" fill="#4a4a4a"/>
<rect x="503" y="271.5" width="14.4" height="1.4" fill="#4a4a4a"/>
<ellipse cx="510.2" cy="277" rx="7" ry="1.8" fill="#777"/>
<linearGradient id="leg" x1="0" x2="1"><stop offset="0" stop-color="#666"/><stop offset="0.5" stop-color="#ccc"/><stop offset="1" stop-color="#888"/></linearGradient>
<path d="M470.5,336 L477,340 L478.5,358.5 L473,355 Z" fill="url(#leg)"/><path d="M534.5,346 L544,342 L546.5,364.5 L537.5,367 Z" fill="url(#leg)"/>
<radialGradient id="tor" cx="0.45" cy="0.75" r="0.6"><stop offset="0" stop-color="#e6e6e6"/><stop offset="0.55" stop-color="#b0b0b0"/><stop offset="1" stop-color="#6a6a6a"/></radialGradient>
<ellipse cx="510.8" cy="332.7" rx="40.3" ry="19.8" fill="url(#tor)"/>
<path d="M473,333 Q475,346 500,350 Q520,352 540,346 Q549,341 550,335" stroke="#666" stroke-width="1.2" fill="none" opacity="0.7"/>
<linearGradient id="cone" x1="0" x2="1"><stop offset="0" stop-color="#888"/><stop offset="0.08" stop-color="#e0e0e0"/><stop offset="0.14" stop-color="#666"/><stop offset="0.22" stop-color="#f0f0f0"/><stop offset="0.55" stop-color="#e8e8e8"/><stop offset="0.62" stop-color="#777"/><stop offset="0.7" stop-color="#dcdcdc"/><stop offset="0.85" stop-color="#555"/><stop offset="1" stop-color="#999"/></linearGradient>
<path d="M484.3,300 L480.6,326 Q512,337 543.9,326 L539.3,300 Z" fill="url(#cone)"/>
<path d="M480.6,326 Q512,337 543.9,326" stroke="#555" stroke-width="1" fill="none" opacity="0.5"/>
<linearGradient id="pipe" x1="0" x2="0" y1="0" y2="1"><stop offset="0" stop-color="#999"/><stop offset="0.35" stop-color="#d8d8d8"/><stop offset="1" stop-color="#777"/></linearGradient>
<path d="M538,304 L562,298.5 L562.5,324 L540,326 Z" fill="url(#pipe)"/><ellipse cx="562.2" cy="311.2" rx="6" ry="13.2" fill="#aaa"/><ellipse cx="562.2" cy="311.2" rx="4.3" ry="11" fill="#8a8a8a"/><path d="M552,300 L553,325" stroke="#eee" stroke-width="1.2"/>
<ellipse cx="511.8" cy="299.6" rx="27.5" ry="12.4" fill="#cfcfcf"/>
<linearGradient id="inn" x1="0" x2="0" y1="0" y2="1"><stop offset="0" stop-color="#d8d8d8"/><stop offset="0.45" stop-color="#9a9a9a"/><stop offset="0.75" stop-color="#6a6a6a"/><stop offset="1" stop-color="#444"/></linearGradient>
<ellipse cx="511.8" cy="300.5" rx="24.5" ry="10.5" fill="url(#inn)"/><ellipse cx="512" cy="303.5" rx="12" ry="4" fill="#7a7a7a"/><path d="M487,301 Q490,311 512,312 Q534,311 537,301" stroke="#555" stroke-width="1.2" fill="none"/>
<circle cx="469.6" cy="302.9" r="1.9" fill="#555"/><ellipse cx="474.5" cy="305.5" rx="1.3" ry="1.8" fill="none" stroke="#999" stroke-width="0.8"/>
<ellipse cx="510.4" cy="387" rx="8.3" ry="4.5" fill="#555"/><ellipse cx="510.4" cy="385.8" rx="8" ry="4" fill="#777"/><ellipse cx="510.4" cy="385.8" rx="3.6" ry="1.8" fill="#fff"/>
<path d="M491.5,420 L492.5,433 L498.4,435.5 L498,424 Z" fill="url(#leg)"/><path d="M503,426 Q504,433 512,436 L523.3,436.2 L523,428 Z" fill="url(#leg)"/><path d="M527,420 L531.5,428.6 L534,423 L534,418Z" fill="#999"/>
<path d="M486,413.7 L486,420 Q492,427 510.4,428 Q530,427 534.7,422 L534.7,413.7 Z" fill="#b8b8b8"/>
<ellipse cx="510.4" cy="413.7" rx="24.4" ry="13.8" fill="#6d6d6d"/>
<ellipse cx="510.9" cy="414" rx="4" ry="2.5" fill="#888"/><ellipse cx="510.9" cy="413.5" rx="1.5" ry="1" fill="#ddd"/>
<linearGradient id="pedge" x1="0" x2="1"><stop offset="0" stop-color="#5a5a5a"/><stop offset="0.5" stop-color="#8a8a8a"/><stop offset="1" stop-color="#a0a0a0"/></linearGradient>
<path d="M469.8,471.8 L469.8,475.5 A40.6,23 0 0 0 551,475.5 L551,471.8 Z" fill="url(#pedge)"/>
<ellipse cx="510.4" cy="471.8" rx="40.6" ry="23" fill="#727272"/>
<ellipse cx="510.1" cy="472.6" rx="10" ry="5.5" fill="#fff"/>
<ellipse cx="510.0" cy="462.0" rx="2.9" ry="2.3" fill="#4e4e4e"/><ellipse cx="510.0" cy="462.4" rx="2.3" ry="1.7" fill="#b8b8b8"/>
<ellipse cx="523.0" cy="464.5" rx="2.9" ry="2.3" fill="#4e4e4e"/><ellipse cx="523.0" cy="464.9" rx="2.3" ry="1.7" fill="#b8b8b8"/>
<ellipse cx="527.6" cy="472.6" rx="2.9" ry="2.3" fill="#4e4e4e"/><ellipse cx="527.6" cy="473.0" rx="2.3" ry="1.7" fill="#b8b8b8"/>
<ellipse cx="523.0" cy="479.6" rx="2.9" ry="2.3" fill="#4e4e4e"/><ellipse cx="523.0" cy="480.0" rx="2.3" ry="1.7" fill="#b8b8b8"/>
<ellipse cx="510.0" cy="482.0" rx="2.9" ry="2.3" fill="#4e4e4e"/><ellipse cx="510.0" cy="482.4" rx="2.3" ry="1.7" fill="#b8b8b8"/>
<ellipse cx="496.8" cy="479.6" rx="2.9" ry="2.3" fill="#4e4e4e"/><ellipse cx="496.8" cy="480.0" rx="2.3" ry="1.7" fill="#b8b8b8"/>
<ellipse cx="491.5" cy="472.6" rx="2.9" ry="2.3" fill="#4e4e4e"/><ellipse cx="491.5" cy="473.0" rx="2.3" ry="1.7" fill="#b8b8b8"/>
<ellipse cx="497.3" cy="464.5" rx="2.9" ry="2.3" fill="#4e4e4e"/><ellipse cx="497.3" cy="464.9" rx="2.3" ry="1.7" fill="#b8b8b8"/>
<circle cx="481" cy="488" r="0.8" fill="#ddd"/><circle cx="546.5" cy="478" r="0.8" fill="#ddd"/><circle cx="499" cy="451" r="0.8" fill="#ddd"/>
<ellipse cx="546.7" cy="491.3" rx="2.2" ry="1.4" fill="none" stroke="#888" stroke-width="1.1"/><rect x="545.4" y="498" width="2.8" height="7" fill="#888"/><ellipse cx="546.8" cy="498" rx="2.2" ry="1.3" fill="#666"/>
<ellipse cx="482.8" cy="501.8" rx="2.2" ry="1.4" fill="none" stroke="#888" stroke-width="1.1"/><rect x="481.5" y="507" width="2.8" height="7.5" fill="#888"/><ellipse cx="482.9" cy="507" rx="2.2" ry="1.3" fill="#666"/>
<path d="M488.7,518.7 L502,521 L502,530 L487.5,525 Q486,521 488.7,518.7Z" fill="#7a7a7a"/><path d="M519,515 L527,515.5 Q530,516.5 529,518.5 L520,523 Z" fill="#777"/><path d="M510,531 L520,534 L519.5,538.5 L513,539 L509,535Z" fill="#666"/>
<path d="M500,528 L500,534 Q510,539 520,534 L520,528 Z" fill="#6a6a6a"/>
<rect x="501.9" y="515.6" width="16.85" height="13" fill="url(#cylL)"/><ellipse cx="510.3" cy="528.6" rx="8.4" ry="3" fill="#777"/><ellipse cx="510.3" cy="515.6" rx="8.4" ry="4.2" fill="#8a8a8a"/><ellipse cx="510.3" cy="515.8" rx="4.5" ry="2.4" fill="#666"/>
<ellipse cx="510.6" cy="551" rx="7.5" ry="4" fill="#555"/><ellipse cx="510.6" cy="550.4" rx="7.5" ry="3.8" fill="#6d6d6d"/><rect x="509" y="549.5" width="3" height="2" fill="#ccc"/>
<rect x="508.9" y="561" width="3.4" height="9.5" fill="url(#shaft)"/><ellipse cx="510.6" cy="561" rx="2.2" ry="1.3" fill="#666"/>
<rect x="0" y="72" width="1.5" height="2.5" fill="#c8c8c8"/>
<text x="38.3" y="166.9" textLength="7.0" lengthAdjust="spacingAndGlyphs">1</text>
<text x="38.3" y="200.4" textLength="7.0" lengthAdjust="spacingAndGlyphs">2</text>
<text x="38.3" y="223.4" textLength="7.0" lengthAdjust="spacingAndGlyphs">3</text>
<text x="38.3" y="263.4" textLength="7.0" lengthAdjust="spacingAndGlyphs">4</text>
<text x="38.3" y="278.4" textLength="7.0" lengthAdjust="spacingAndGlyphs">5</text>
<text x="162.3" y="246.4" textLength="7.0" lengthAdjust="spacingAndGlyphs">6</text>
<text x="162.3" y="257.9" textLength="7.0" lengthAdjust="spacingAndGlyphs">7</text>
<text x="206.3" y="268.9" textLength="7.0" lengthAdjust="spacingAndGlyphs">8</text>
<text x="206.3" y="280.4" textLength="7.0" lengthAdjust="spacingAndGlyphs">9</text>
<text x="200.9" y="291.9" textLength="14.0" lengthAdjust="spacingAndGlyphs">10</text>
<text x="200.9" y="304.4" textLength="14.0" lengthAdjust="spacingAndGlyphs">11</text>
<text x="16.8" y="302.9" textLength="14.0" lengthAdjust="spacingAndGlyphs">14</text>
<text x="16.8" y="318.4" textLength="14.0" lengthAdjust="spacingAndGlyphs">15</text>
<text x="16.8" y="334.4" textLength="14.0" lengthAdjust="spacingAndGlyphs">17</text>
<text x="16.8" y="347.9" textLength="14.0" lengthAdjust="spacingAndGlyphs">46</text>
<text x="91.8" y="326.9" textLength="14.0" lengthAdjust="spacingAndGlyphs">12</text>
<text x="149.3" y="334.4" textLength="14.0" lengthAdjust="spacingAndGlyphs">13</text>
<text x="225.8" y="336.9" textLength="14.0" lengthAdjust="spacingAndGlyphs">14</text>
<text x="225.8" y="352.9" textLength="14.0" lengthAdjust="spacingAndGlyphs">15</text>
<text x="225.8" y="365.4" textLength="14.0" lengthAdjust="spacingAndGlyphs">16</text>
<text x="225.8" y="378.9" textLength="14.0" lengthAdjust="spacingAndGlyphs">17</text>
<text x="161.8" y="398.9" textLength="14.0" lengthAdjust="spacingAndGlyphs">18</text>
<text x="65.8" y="420.4" textLength="14.0" lengthAdjust="spacingAndGlyphs">19</text>
<text x="159.3" y="439.4" textLength="14.0" lengthAdjust="spacingAndGlyphs">20</text>
<text x="61.8" y="471.9" textLength="14.0" lengthAdjust="spacingAndGlyphs">21</text>
<text x="61.8" y="488.7" textLength="14.0" lengthAdjust="spacingAndGlyphs">22</text>
<text x="61.8" y="497.1" textLength="14.0" lengthAdjust="spacingAndGlyphs">23</text>
<text x="61.8" y="506.2" textLength="14.0" lengthAdjust="spacingAndGlyphs">24</text>
<text x="159.3" y="496.9" textLength="14.0" lengthAdjust="spacingAndGlyphs">25</text>
<text x="61.8" y="528.9" textLength="14.0" lengthAdjust="spacingAndGlyphs">26</text>
<text x="61.8" y="555.4" textLength="14.0" lengthAdjust="spacingAndGlyphs">27</text>
<text x="393.6" y="119.1" textLength="14.0" lengthAdjust="spacingAndGlyphs">28</text>
<text x="393.6" y="154.4" textLength="14.0" lengthAdjust="spacingAndGlyphs">28</text>
<text x="393.6" y="213.9" textLength="14.0" lengthAdjust="spacingAndGlyphs">29</text>
<text x="393.6" y="282.9" textLength="14.0" lengthAdjust="spacingAndGlyphs">28</text>
<text x="393.6" y="321.4" textLength="14.0" lengthAdjust="spacingAndGlyphs">28</text>
<text x="393.6" y="351.4" textLength="14.0" lengthAdjust="spacingAndGlyphs">30</text>
<text x="393.6" y="369.4" textLength="14.0" lengthAdjust="spacingAndGlyphs">31</text>
<text x="393.6" y="426.4" textLength="14.0" lengthAdjust="spacingAndGlyphs">32</text>
<text x="393.6" y="465.4" textLength="14.0" lengthAdjust="spacingAndGlyphs">33</text>
<text x="393.6" y="502.9" textLength="14.0" lengthAdjust="spacingAndGlyphs">34</text>
<text x="393.6" y="532.9" textLength="14.0" lengthAdjust="spacingAndGlyphs">35</text>
<text x="565.8" y="131.4" textLength="14.0" lengthAdjust="spacingAndGlyphs">21</text>
<text x="565.8" y="176.9" textLength="14.0" lengthAdjust="spacingAndGlyphs">28</text>
<text x="565.8" y="212.9" textLength="14.0" lengthAdjust="spacingAndGlyphs">28</text>
<text x="565.8" y="259.4" textLength="14.0" lengthAdjust="spacingAndGlyphs">36</text>
<text x="585.8" y="300.4" textLength="14.0" lengthAdjust="spacingAndGlyphs">37</text>
<text x="447.3" y="301.7" textLength="14.0" lengthAdjust="spacingAndGlyphs">12</text>
<text x="447.3" y="317.7" textLength="14.0" lengthAdjust="spacingAndGlyphs">13</text>
<text x="565.8" y="386.4" textLength="14.0" lengthAdjust="spacingAndGlyphs">38</text>
<text x="565.8" y="417.9" textLength="14.0" lengthAdjust="spacingAndGlyphs">39</text>
<text x="565.8" y="474.4" textLength="14.0" lengthAdjust="spacingAndGlyphs">40</text>
<text x="565.8" y="491.9" textLength="14.0" lengthAdjust="spacingAndGlyphs">41</text>
<text x="565.8" y="504.4" textLength="14.0" lengthAdjust="spacingAndGlyphs">42</text>
<text x="538.3" y="520.4" textLength="14.0" lengthAdjust="spacingAndGlyphs">43</text>
<text x="538.3" y="552.9" textLength="14.0" lengthAdjust="spacingAndGlyphs">44</text>
<text x="538.3" y="565.4" textLength="14.0" lengthAdjust="spacingAndGlyphs">45</text>
</svg></body></html>
